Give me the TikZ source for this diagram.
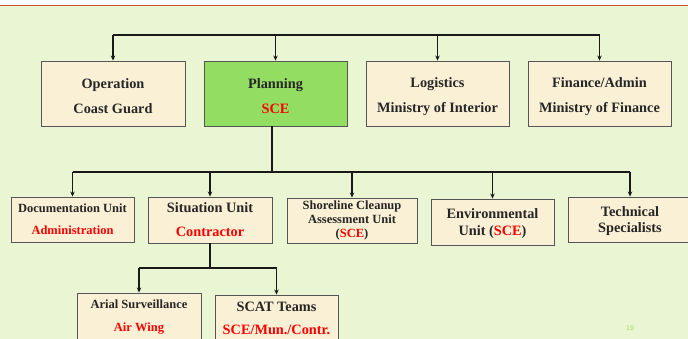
\documentclass[tikz,border=0pt]{standalone}
\usepackage{fontspec}
\setmainfont{Liberation Serif}
\setsansfont{Liberation Sans}
\usetikzlibrary{arrows.meta}
\definecolor{bg}{HTML}{E9F5D3}
\definecolor{boxfill}{HTML}{FAF0D5}
\definecolor{planfill}{HTML}{93DD63}
\definecolor{boxline}{HTML}{555555}
\definecolor{rulered}{HTML}{D04A38}
\definecolor{pagenum}{HTML}{A8D86A}
\definecolor{lead}{HTML}{FF0000}
\begin{document}
\begin{tikzpicture}[x=1pt,y=-1pt,
  unit/.style={draw=boxline, line width=0.9pt, fill=boxfill, inner sep=0pt,
    align=center, text=black!85},
  big/.style={font=\fontsize{14.3}{#1}\selectfont\bfseries},
  small/.style={font=\fontsize{12.5}{#1}\selectfont\bfseries},
  link/.style={line width=1.5pt, black!90},
  arr/.style={link, -{Stealth[length=5pt,width=4.5pt]}}]
  \useasboundingbox (0,0) rectangle (688,339);
  \clip (0,0) rectangle (688,339);
  % slide background and header rule
  \fill[bg] (0,0) rectangle (688,339);
  \fill[white] (0,0) rectangle (688,5);
  \fill[rulered] (0,4.8) rectangle (688,6.2);

  % top row
  \node[unit, big=25, minimum width=144pt, minimum height=65pt] (ops) at (113,93.5)
    {\rule{0pt}{16pt}Operation\\Coast Guard};
  \node[unit, big=25, fill=planfill, minimum width=143pt, minimum height=65pt] (plan) at (275.5,93.5)
    {\rule{0pt}{16pt}Planning\\\textcolor{lead}{SCE}};
  \node[unit, big=25, minimum width=143pt, minimum height=65pt] (log) at (437.5,93.5)
    {\rule{0pt}{16pt}Logistics\\Ministry of Interior};
  \node[unit, big=25, minimum width=143pt, minimum height=65pt] (fin) at (599.5,93.5)
    {\rule{0pt}{16pt}Finance/Admin\\Ministry of Finance};

  % planning section units
  \node[unit, small=22, minimum width=123pt, minimum height=45pt] (doc) at (72.5,219.5)
    {Documentation Unit\\\textcolor{lead}{Administration}};
  \node[unit, big=24, minimum width=124pt, minimum height=46pt] (sit) at (210,220)
    {Situation Unit\\\textcolor{lead}{Contractor}};
  \node[unit, small=14, minimum width=130pt, minimum height=45pt] (shore) at (352,220.5)
    {Shoreline Cleanup\\Assessment Unit\\(\textcolor{lead}{SCE})};
  \node[unit, big=17, minimum width=123pt, minimum height=46pt] (env) at (492.5,222)
    {\rule{0pt}{14pt}Environmental\\Unit (\textcolor{lead}{SCE})};
  \node[unit, big=16, minimum width=124pt, minimum height=45pt] (tech) at (630,219.5)
    {\rule{0pt}{14pt}Technical\\Specialists};

  % situation unit teams
  \node[unit, small=23, minimum width=124pt, minimum height=49pt] (air) at (139,317.5)
    {Arial Surveillance\\\textcolor{lead}{Air Wing}};
  \node[unit, big=23, minimum width=123pt, minimum height=47pt] (scat) at (276.5,318.5)
    {SCAT Teams\\\textcolor{lead}{SCE/Mun./Contr.}};

  % top distribution bus
  \coordinate (busA) at (0,35);
  \draw[link] (ops.north |- busA) -- (fin.north |- busA);
  \foreach \n in {ops,plan,log,fin}
    \draw[arr] (\n.north |- busA) -- (\n.north);

  % planning to its units
  \coordinate (busB) at (0,172);
  \coordinate (planDrop) at (272,126);
  \draw[link] (planDrop) -- (planDrop |- busB);
  \draw[link] (doc.north |- busB) -- (tech.north |- busB);
  \foreach \n in {doc,sit,shore,env,tech}
    \draw[arr] (\n.north |- busB) -- (\n.north);

  % situation unit to teams
  \coordinate (busC) at (0,268);
  \draw[link] (sit.south) -- (sit.south |- busC);
  \draw[link] (air.north |- busC) -- (scat.north |- busC);
  \foreach \n in {air,scat}
    \draw[arr] (\n.north |- busC) -- (\n.north);

  % slide number
  \node[font=\sffamily\fontsize{7}{8}\selectfont, text=pagenum] (pnum) at (630,328) {19};
\end{tikzpicture}
\end{document}
